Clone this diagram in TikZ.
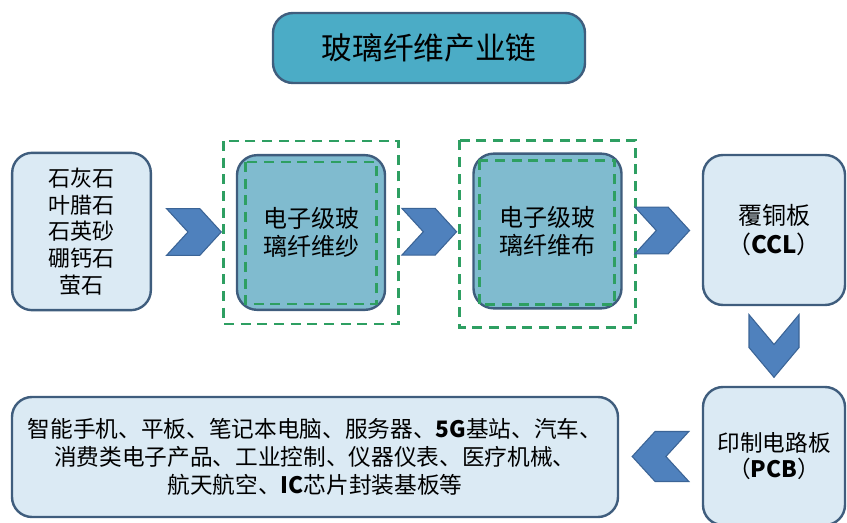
\documentclass[tikz,border=0pt]{standalone}
\usepackage{fontspec}
\setmainfont{Noto Sans CJK SC}
\usepackage{tikz}
\usetikzlibrary{shapes.symbols,positioning,calc}
\definecolor{titleblue}{HTML}{4BACC6}
\definecolor{edgeblue}{HTML}{3F5D7D}
\definecolor{lightblue}{HTML}{DBEAF4}
\definecolor{midblue}{HTML}{80BBCF}
\definecolor{chevblue}{HTML}{4F81BD}
\definecolor{chevedge}{HTML}{3B6496}
\definecolor{dashgreen}{HTML}{2E9F62}

\begin{document}
\begin{tikzpicture}[
    x=0.75pt, y=-0.75pt,
    box/.style={rectangle, draw=edgeblue, line width=1.8pt, rounded corners=15pt, fill=lightblue, text centered, align=center, inner sep=2pt},
    fibrebox/.style={box, fill=midblue, minimum width=111pt, minimum height=116pt, font=\fontsize{18}{21}\selectfont},
    chevron/.style={signal, signal to=east, signal from=west, draw=chevedge, fill=chevblue, line width=0.8pt, signal pointer angle=95, inner sep=0pt},
    gdash/.style={draw=dashgreen, line width=2pt, dash pattern=on 7.5pt off 5pt}
]
\useasboundingbox (0,0) rectangle (847,523);

% Title
\node[box, fill=titleblue, minimum width=234pt, minimum height=52.5pt, font=\fontsize{23}{26}\selectfont] (title) at (429,48) {玻璃纤维产业链};

% Main flow
\node[box, minimum width=104pt, minimum height=118pt, font=\fontsize{16.5}{20}\selectfont] (raw) at (81.5,231.5) {石灰石\\叶腊石\\石英砂\\硼钙石\\萤石};
\node[fibrebox] (yarn) at (311,232.5) {电子级玻\\璃纤维纱};
\node[fibrebox] (cloth) at (547.5,231) {电子级玻\\璃纤维布};
\node[box, minimum width=106.5pt, minimum height=112.5pt, font=\fontsize{18}{22}\selectfont] (ccl) at (774,230) {覆铜板\\（{\bfseries CCL}）};
\node[box, minimum width=106.5pt, minimum height=103.5pt, font=\fontsize{17}{20}\selectfont] (pcb) at (774,456) {印制电路板\\（{\bfseries PCB}）};
\node[box, minimum width=454.5pt, minimum height=90pt, font=\fontsize{17}{21}\selectfont] (app) at (315,457) {智能手机、平板、笔记本电脑、服务器、{\bfseries 5G}基站、汽车、\\消费类电子产品、工业控制、仪器仪表、医疗机械、\\航天航空、{\bfseries IC}芯片封装基板等};

% Green dashed frames
\draw[gdash] ($(yarn.north west)+(-12,-13)$) rectangle ($(yarn.south east)+(12,13)$);
\draw[gdash] ($(yarn.north west)+(10,8)$) rectangle ($(yarn.south east)+(-10,-7)$);
\draw[gdash] ($(cloth.north west)+(-13,-12)$) rectangle ($(cloth.south east)+(13,18)$);
\draw[gdash] ($(cloth.north west)+(7,8)$) rectangle ($(cloth.south east)+(-8,-5)$);

% Arrows
\node[chevron, minimum width=41pt, minimum height=35pt] (a1) at ($(raw.east)!0.5!(yarn.west)$) {};
\node[chevron, minimum width=41pt, minimum height=35pt] (a2) at ($(yarn.east)!0.5!(cloth.west)$) {};
\node[chevron, minimum width=41pt, minimum height=35pt] (a3) at ($(cloth.east)!0.5!(ccl.west)$) {};
\node[chevron, rotate=-90, signal pointer angle=80, minimum width=47pt, minimum height=37.5pt] (a4) at ($(ccl.south)!0.5!(pcb.north)$) {};
\node[chevron, rotate=180, minimum width=42.5pt, minimum height=37.5pt] (a5) at ($(pcb.west)!0.5!(app.east)$) {};
\end{tikzpicture}
\end{document}
